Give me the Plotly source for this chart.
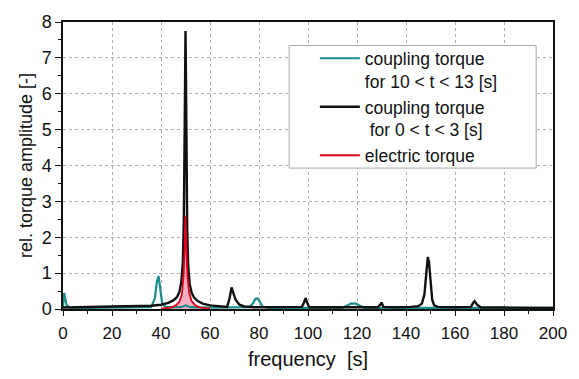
import plotly.graph_objects as go

# coupling torque, 10 < t < 13 s (teal)
f_teal = [0, 0.5, 1.5, 3, 10, 20, 30, 36, 37.5, 38.3, 39, 39.7, 40.5, 42, 48, 50, 52, 60, 70, 76, 77.5, 78.5, 79.3, 80.2, 81.5, 84, 100, 114, 116, 117.5, 119.5, 121, 123, 140, 160, 180, 200]
a_teal = [0.05, 0.45, 0.1, 0.03, 0.03, 0.03, 0.04, 0.05, 0.3, 0.75, 0.92, 0.6, 0.15, 0.05, 0.05, 0.1, 0.05, 0.04, 0.04, 0.05, 0.15, 0.28, 0.3, 0.22, 0.06, 0.03, 0.03, 0.03, 0.1, 0.15, 0.15, 0.1, 0.03, 0.03, 0.03, 0.03, 0.03]

# coupling torque, 0 < t < 3 s (black)
f_black = [0, 10, 20, 30, 36, 40, 43, 45, 46.5, 47.5, 48.3, 48.9, 49.3, 49.6, 49.85, 50, 50.15, 50.4, 50.7, 51.1, 51.7, 52.5, 53.5, 55, 57, 60, 64, 67, 68, 68.8, 69.5, 70.5, 72, 74, 78, 90, 97.5, 98.5, 99, 99.5, 100.5, 110, 128.5, 129.5, 130, 130.8, 135, 142, 145, 146.5, 147.5, 148.3, 148.9, 149.4, 150, 150.7, 151.5, 153, 160, 166.5, 167.5, 168, 169, 170.5, 180, 200]
a_black = [0.04, 0.05, 0.06, 0.07, 0.09, 0.12, 0.17, 0.24, 0.33, 0.47, 0.75, 1.3, 2.4, 4.5, 7.0, 7.75, 6.8, 4.2, 2.2, 1.2, 0.7, 0.45, 0.32, 0.22, 0.15, 0.1, 0.07, 0.06, 0.3, 0.6, 0.45, 0.25, 0.12, 0.07, 0.05, 0.05, 0.06, 0.2, 0.3, 0.2, 0.05, 0.05, 0.05, 0.12, 0.18, 0.06, 0.05, 0.06, 0.08, 0.15, 0.4, 1.0, 1.45, 1.3, 0.7, 0.25, 0.1, 0.06, 0.05, 0.06, 0.18, 0.22, 0.12, 0.05, 0.04, 0.03]

# electric torque (red)
f_red = [40, 44, 46, 47.5, 48.5, 49.2, 49.6, 50, 50.4, 50.8, 51.5, 52.5, 54, 56, 60]
a_red = [0.01, 0.04, 0.1, 0.2, 0.4, 0.9, 1.6, 2.6, 1.6, 0.9, 0.45, 0.22, 0.1, 0.04, 0.01]

x_ticks = [0, 20, 40, 60, 80, 100, 120, 140, 160, 180, 200]
y_ticks = [0, 1, 2, 3, 4, 5, 6, 7, 8]

FONT = "Liberation Sans, Arial, sans-serif"

fig = go.Figure()
fig.add_trace(go.Scatter(x=f_red, y=a_red, mode="none", fill="tozeroy",
                         fillcolor="rgba(230,80,110,0.45)", showlegend=False,
                         hoverinfo="skip"))
fig.add_trace(go.Scatter(x=f_teal, y=a_teal, mode="lines",
                         line=dict(color="#1b8c8a", width=2.2),
                         name="coupling torque<br>for 10 < t < 13 [s]"))
fig.add_trace(go.Scatter(x=f_black, y=a_black, mode="lines",
                         line=dict(color="#111111", width=2.4),
                         name="coupling torque<br> for 0 < t < 3 [s]"))
fig.add_trace(go.Scatter(x=f_red, y=a_red, mode="lines",
                         line=dict(color="#e0001a", width=1.8),
                         name="electric torque"))

# legend frame drawn as a white box above the plot content
fig.add_shape(type="rect", xref="paper", yref="paper",
              x0=0.4615, x1=0.9656, y0=0.491, y1=0.918,
              line=dict(color="#aaaaaa", width=1), fillcolor="white", layer="above")

fig.update_layout(
    width=579, height=379,
    margin=dict(l=63, r=22, t=21, b=65),
    paper_bgcolor="white", plot_bgcolor="white",
    font=dict(family=FONT, size=17, color="#111"),
    showlegend=True,
    legend=dict(x=0.514, y=0.936, xanchor="left", yanchor="top",
                bgcolor="rgba(0,0,0,0)", borderwidth=0, valign="top",
                font=dict(size=17.5, family=FONT), tracegroupgap=0,
                itemwidth=40),
)
fig.update_xaxes(range=[0, 200], tickvals=x_ticks, ticktext=[str(v) for v in x_ticks],
                 showline=True, linecolor="#111", linewidth=1.5, mirror=True,
                 ticks="outside", ticklen=5, tickcolor="#111",
                 tickfont=dict(size=17), ticklabelstandoff=3,
                 minor=dict(dtick=10, ticks="outside", ticklen=3, tickcolor="#111", showgrid=False),
                 showgrid=True, gridcolor="#b0b0b0", griddash="dot", gridwidth=1,
                 zeroline=False,
                 title=dict(text="frequency  [s]", font=dict(size=20), standoff=10))
fig.update_yaxes(range=[0, 8], tickvals=y_ticks, ticktext=[str(v) for v in y_ticks],
                 showline=True, linecolor="#111", linewidth=1.5, mirror=True,
                 ticks="outside", ticklen=6, tickcolor="#111",
                 tickfont=dict(size=18),
                 minor=dict(dtick=0.5, ticks="outside", ticklen=3, tickcolor="#111", showgrid=False),
                 showgrid=True, gridcolor="#b0b0b0", griddash="dot", gridwidth=1,
                 zeroline=False,
                 title=dict(text="rel. torque amplitude [-]", font=dict(size=18), standoff=4))

fig.write_html("out.html")
